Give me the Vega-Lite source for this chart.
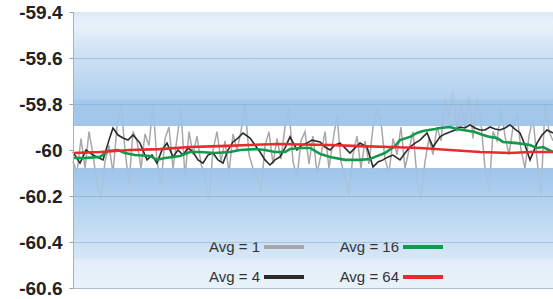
{
  "$schema": "https://vega.github.io/schema/vega-lite/v6.json",
  "width": 480,
  "height": 276,
  "autosize": {"type": "none"},
  "padding": {"left": 73, "top": 12, "right": 0, "bottom": 11},
  "background": "white",
  "config": {"view": {"stroke": null}},
  "datasets": {
    "bands": [
      {"band": "top", "lo": -59.896, "hi": -59.4},
      {"band": "bottom", "lo": -60.6, "hi": -60.078}
    ],
    "lines": [
      {"s":"Avg = 1","x":0,"v":-60.05},{"s":"Avg = 1","x":2,"v":-60.10},{"s":"Avg = 1","x":4,"v":-59.95},{"s":"Avg = 1","x":6,"v":-60.08},{"s":"Avg = 1","x":8,"v":-59.92},{"s":"Avg = 1","x":10,"v":-60.02},{"s":"Avg = 1","x":12,"v":-60.15},{"s":"Avg = 1","x":14,"v":-60.22},{"s":"Avg = 1","x":16,"v":-60.05},{"s":"Avg = 1","x":18,"v":-59.98},{"s":"Avg = 1","x":20,"v":-60.10},{"s":"Avg = 1","x":22,"v":-59.90},{"s":"Avg = 1","x":24,"v":-59.80},{"s":"Avg = 1","x":26,"v":-60.00},{"s":"Avg = 1","x":28,"v":-60.15},{"s":"Avg = 1","x":30,"v":-59.92},{"s":"Avg = 1","x":32,"v":-59.96},{"s":"Avg = 1","x":34,"v":-60.08},{"s":"Avg = 1","x":36,"v":-59.93},{"s":"Avg = 1","x":38,"v":-59.98},{"s":"Avg = 1","x":40,"v":-59.80},{"s":"Avg = 1","x":42,"v":-60.05},{"s":"Avg = 1","x":44,"v":-60.15},{"s":"Avg = 1","x":46,"v":-59.95},{"s":"Avg = 1","x":48,"v":-59.90},{"s":"Avg = 1","x":50,"v":-60.08},{"s":"Avg = 1","x":52,"v":-59.95},{"s":"Avg = 1","x":54,"v":-59.82},{"s":"Avg = 1","x":56,"v":-60.12},{"s":"Avg = 1","x":58,"v":-59.92},{"s":"Avg = 1","x":60,"v":-60.02},{"s":"Avg = 1","x":62,"v":-59.94},{"s":"Avg = 1","x":64,"v":-60.06},{"s":"Avg = 1","x":66,"v":-60.12},{"s":"Avg = 1","x":68,"v":-60.22},{"s":"Avg = 1","x":70,"v":-60.00},{"s":"Avg = 1","x":72,"v":-59.92},{"s":"Avg = 1","x":74,"v":-60.05},{"s":"Avg = 1","x":76,"v":-59.96},{"s":"Avg = 1","x":78,"v":-60.10},{"s":"Avg = 1","x":80,"v":-59.93},{"s":"Avg = 1","x":82,"v":-60.00},{"s":"Avg = 1","x":84,"v":-59.92},{"s":"Avg = 1","x":86,"v":-59.80},{"s":"Avg = 1","x":88,"v":-60.02},{"s":"Avg = 1","x":90,"v":-60.08},{"s":"Avg = 1","x":92,"v":-60.12},{"s":"Avg = 1","x":94,"v":-60.18},{"s":"Avg = 1","x":96,"v":-59.98},{"s":"Avg = 1","x":98,"v":-59.92},{"s":"Avg = 1","x":100,"v":-60.06},{"s":"Avg = 1","x":102,"v":-59.95},{"s":"Avg = 1","x":104,"v":-60.04},{"s":"Avg = 1","x":106,"v":-59.90},{"s":"Avg = 1","x":108,"v":-59.82},{"s":"Avg = 1","x":110,"v":-60.05},{"s":"Avg = 1","x":112,"v":-60.12},{"s":"Avg = 1","x":114,"v":-59.96},{"s":"Avg = 1","x":116,"v":-59.92},{"s":"Avg = 1","x":118,"v":-60.06},{"s":"Avg = 1","x":120,"v":-59.94},{"s":"Avg = 1","x":122,"v":-60.10},{"s":"Avg = 1","x":124,"v":-60.02},{"s":"Avg = 1","x":126,"v":-59.92},{"s":"Avg = 1","x":128,"v":-60.08},{"s":"Avg = 1","x":130,"v":-59.96},{"s":"Avg = 1","x":132,"v":-59.85},{"s":"Avg = 1","x":134,"v":-60.05},{"s":"Avg = 1","x":136,"v":-60.12},{"s":"Avg = 1","x":138,"v":-60.20},{"s":"Avg = 1","x":140,"v":-60.02},{"s":"Avg = 1","x":142,"v":-59.94},{"s":"Avg = 1","x":144,"v":-60.08},{"s":"Avg = 1","x":146,"v":-59.96},{"s":"Avg = 1","x":148,"v":-60.06},{"s":"Avg = 1","x":150,"v":-59.90},{"s":"Avg = 1","x":152,"v":-59.82},{"s":"Avg = 1","x":154,"v":-59.88},{"s":"Avg = 1","x":156,"v":-60.04},{"s":"Avg = 1","x":158,"v":-60.10},{"s":"Avg = 1","x":160,"v":-59.95},{"s":"Avg = 1","x":162,"v":-60.02},{"s":"Avg = 1","x":164,"v":-59.90},{"s":"Avg = 1","x":166,"v":-60.08},{"s":"Avg = 1","x":168,"v":-60.00},{"s":"Avg = 1","x":170,"v":-59.92},{"s":"Avg = 1","x":172,"v":-60.12},{"s":"Avg = 1","x":174,"v":-60.22},{"s":"Avg = 1","x":176,"v":-60.05},{"s":"Avg = 1","x":178,"v":-59.95},{"s":"Avg = 1","x":180,"v":-60.02},{"s":"Avg = 1","x":182,"v":-59.90},{"s":"Avg = 1","x":184,"v":-59.96},{"s":"Avg = 1","x":186,"v":-59.78},{"s":"Avg = 1","x":188,"v":-59.85},{"s":"Avg = 1","x":190,"v":-59.74},{"s":"Avg = 1","x":192,"v":-59.92},{"s":"Avg = 1","x":194,"v":-59.80},{"s":"Avg = 1","x":196,"v":-59.90},{"s":"Avg = 1","x":198,"v":-59.76},{"s":"Avg = 1","x":200,"v":-59.95},{"s":"Avg = 1","x":202,"v":-59.78},{"s":"Avg = 1","x":204,"v":-59.88},{"s":"Avg = 1","x":206,"v":-60.08},{"s":"Avg = 1","x":208,"v":-60.18},{"s":"Avg = 1","x":210,"v":-59.92},{"s":"Avg = 1","x":212,"v":-59.96},{"s":"Avg = 1","x":214,"v":-59.82},{"s":"Avg = 1","x":216,"v":-59.94},{"s":"Avg = 1","x":218,"v":-60.02},{"s":"Avg = 1","x":220,"v":-59.90},{"s":"Avg = 1","x":222,"v":-59.84},{"s":"Avg = 1","x":224,"v":-60.00},{"s":"Avg = 1","x":226,"v":-60.08},{"s":"Avg = 1","x":228,"v":-59.94},{"s":"Avg = 1","x":230,"v":-59.86},{"s":"Avg = 1","x":232,"v":-60.04},{"s":"Avg = 1","x":234,"v":-60.20},{"s":"Avg = 1","x":236,"v":-59.80},{"s":"Avg = 1","x":238,"v":-59.92},{"s":"Avg = 1","x":240,"v":-59.96},

      {"s":"Avg = 4","x":0,"v":-60.009},{"s":"Avg = 4","x":3.5,"v":-60.057},{"s":"Avg = 4","x":6.5,"v":-60.0},{"s":"Avg = 4","x":10,"v":-60.022},{"s":"Avg = 4","x":15,"v":-60.043},{"s":"Avg = 4","x":18.5,"v":-59.943},{"s":"Avg = 4","x":20,"v":-59.904},{"s":"Avg = 4","x":22.5,"v":-59.935},{"s":"Avg = 4","x":25,"v":-59.948},{"s":"Avg = 4","x":27.5,"v":-59.957},{"s":"Avg = 4","x":30,"v":-59.935},{"s":"Avg = 4","x":33.5,"v":-59.970},{"s":"Avg = 4","x":37,"v":-60.043},{"s":"Avg = 4","x":39.5,"v":-60.022},{"s":"Avg = 4","x":42,"v":-60.057},{"s":"Avg = 4","x":44.5,"v":-60.0},{"s":"Avg = 4","x":47,"v":-59.970},{"s":"Avg = 4","x":50,"v":-60.030},{"s":"Avg = 4","x":52.5,"v":-60.0},{"s":"Avg = 4","x":55,"v":-60.022},{"s":"Avg = 4","x":57.5,"v":-59.991},{"s":"Avg = 4","x":60,"v":-60.009},{"s":"Avg = 4","x":62.5,"v":-60.043},{"s":"Avg = 4","x":65,"v":-60.057},{"s":"Avg = 4","x":67.5,"v":-60.022},{"s":"Avg = 4","x":70,"v":-60.013},{"s":"Avg = 4","x":72.5,"v":-60.043},{"s":"Avg = 4","x":75,"v":-60.057},{"s":"Avg = 4","x":77.5,"v":-60.0},{"s":"Avg = 4","x":80,"v":-59.965},{"s":"Avg = 4","x":82.5,"v":-59.948},{"s":"Avg = 4","x":85,"v":-59.926},{"s":"Avg = 4","x":88.5,"v":-59.948},{"s":"Avg = 4","x":91,"v":-59.978},{"s":"Avg = 4","x":93.5,"v":-60.009},{"s":"Avg = 4","x":96,"v":-60.043},{"s":"Avg = 4","x":98.5,"v":-60.065},{"s":"Avg = 4","x":101,"v":-60.043},{"s":"Avg = 4","x":103.5,"v":-60.030},{"s":"Avg = 4","x":106,"v":-59.991},{"s":"Avg = 4","x":108.5,"v":-59.943},{"s":"Avg = 4","x":112,"v":-60.0},{"s":"Avg = 4","x":114.5,"v":-59.978},{"s":"Avg = 4","x":117,"v":-59.970},{"s":"Avg = 4","x":119.5,"v":-59.957},{"s":"Avg = 4","x":123.5,"v":-59.965},{"s":"Avg = 4","x":126,"v":-59.987},{"s":"Avg = 4","x":128.5,"v":-60.0},{"s":"Avg = 4","x":131,"v":-59.978},{"s":"Avg = 4","x":133.5,"v":-59.970},{"s":"Avg = 4","x":136,"v":-59.991},{"s":"Avg = 4","x":138.5,"v":-60.013},{"s":"Avg = 4","x":141,"v":-59.991},{"s":"Avg = 4","x":143.5,"v":-59.970},{"s":"Avg = 4","x":147,"v":-59.987},{"s":"Avg = 4","x":150,"v":-60.074},{"s":"Avg = 4","x":152.5,"v":-60.052},{"s":"Avg = 4","x":155,"v":-60.043},{"s":"Avg = 4","x":157.5,"v":-60.030},{"s":"Avg = 4","x":160,"v":-60.022},{"s":"Avg = 4","x":163.5,"v":-60.043},{"s":"Avg = 4","x":166,"v":-60.013},{"s":"Avg = 4","x":168.5,"v":-59.987},{"s":"Avg = 4","x":171,"v":-59.970},{"s":"Avg = 4","x":173.5,"v":-59.957},{"s":"Avg = 4","x":177,"v":-59.926},{"s":"Avg = 4","x":180,"v":-59.987},{"s":"Avg = 4","x":183.5,"v":-59.943},{"s":"Avg = 4","x":186,"v":-59.930},{"s":"Avg = 4","x":188.5,"v":-59.922},{"s":"Avg = 4","x":191,"v":-59.913},{"s":"Avg = 4","x":193.5,"v":-59.900},{"s":"Avg = 4","x":196,"v":-59.904},{"s":"Avg = 4","x":198.5,"v":-59.891},{"s":"Avg = 4","x":201,"v":-59.904},{"s":"Avg = 4","x":203.5,"v":-59.913},{"s":"Avg = 4","x":206,"v":-59.913},{"s":"Avg = 4","x":208.5,"v":-59.900},{"s":"Avg = 4","x":211,"v":-59.909},{"s":"Avg = 4","x":213.5,"v":-59.913},{"s":"Avg = 4","x":216,"v":-59.904},{"s":"Avg = 4","x":218.5,"v":-59.891},{"s":"Avg = 4","x":221,"v":-59.909},{"s":"Avg = 4","x":223.5,"v":-59.926},{"s":"Avg = 4","x":226,"v":-59.978},{"s":"Avg = 4","x":228.5,"v":-60.043},{"s":"Avg = 4","x":232,"v":-59.970},{"s":"Avg = 4","x":234.5,"v":-59.935},{"s":"Avg = 4","x":237,"v":-59.913},{"s":"Avg = 4","x":240,"v":-59.926},

      {"s":"Avg = 16","x":0,"v":-60.035},{"s":"Avg = 16","x":6,"v":-60.035},{"s":"Avg = 16","x":13.5,"v":-60.030},{"s":"Avg = 16","x":17.5,"v":-60.004},{"s":"Avg = 16","x":22.5,"v":-60.0},{"s":"Avg = 16","x":26,"v":-60.013},{"s":"Avg = 16","x":31,"v":-60.022},{"s":"Avg = 16","x":38.5,"v":-60.026},{"s":"Avg = 16","x":42,"v":-60.043},{"s":"Avg = 16","x":46,"v":-60.035},{"s":"Avg = 16","x":53.5,"v":-60.026},{"s":"Avg = 16","x":58.5,"v":-60.009},{"s":"Avg = 16","x":63.5,"v":-60.009},{"s":"Avg = 16","x":71,"v":-60.013},{"s":"Avg = 16","x":78.5,"v":-60.009},{"s":"Avg = 16","x":83.5,"v":-60.0},{"s":"Avg = 16","x":91,"v":-59.996},{"s":"Avg = 16","x":96,"v":-60.0},{"s":"Avg = 16","x":101,"v":-60.009},{"s":"Avg = 16","x":106,"v":-60.009},{"s":"Avg = 16","x":108.5,"v":-59.996},{"s":"Avg = 16","x":113.5,"v":-59.991},{"s":"Avg = 16","x":118.5,"v":-59.991},{"s":"Avg = 16","x":123.5,"v":-60.017},{"s":"Avg = 16","x":128.5,"v":-60.030},{"s":"Avg = 16","x":136,"v":-60.043},{"s":"Avg = 16","x":143.5,"v":-60.043},{"s":"Avg = 16","x":148.5,"v":-60.039},{"s":"Avg = 16","x":151,"v":-60.030},{"s":"Avg = 16","x":156,"v":-60.013},{"s":"Avg = 16","x":161,"v":-59.983},{"s":"Avg = 16","x":163.5,"v":-59.957},{"s":"Avg = 16","x":168.5,"v":-59.943},{"s":"Avg = 16","x":172,"v":-59.926},{"s":"Avg = 16","x":175,"v":-59.917},{"s":"Avg = 16","x":181,"v":-59.909},{"s":"Avg = 16","x":183.5,"v":-59.904},{"s":"Avg = 16","x":188.5,"v":-59.9},{"s":"Avg = 16","x":192,"v":-59.909},{"s":"Avg = 16","x":195,"v":-59.913},{"s":"Avg = 16","x":201,"v":-59.922},{"s":"Avg = 16","x":205,"v":-59.935},{"s":"Avg = 16","x":208.5,"v":-59.943},{"s":"Avg = 16","x":212,"v":-59.948},{"s":"Avg = 16","x":215,"v":-59.965},{"s":"Avg = 16","x":222,"v":-59.970},{"s":"Avg = 16","x":228.5,"v":-59.978},{"s":"Avg = 16","x":232,"v":-59.991},{"s":"Avg = 16","x":235,"v":-59.987},{"s":"Avg = 16","x":240,"v":-60.009},

      {"s":"Avg = 64","x":0,"v":-60.013},{"s":"Avg = 64","x":13.5,"v":-60.009},{"s":"Avg = 64","x":28.5,"v":-60.0},{"s":"Avg = 64","x":43.5,"v":-59.996},{"s":"Avg = 64","x":58.5,"v":-59.987},{"s":"Avg = 64","x":73.5,"v":-59.983},{"s":"Avg = 64","x":88.5,"v":-59.978},{"s":"Avg = 64","x":103.5,"v":-59.974},{"s":"Avg = 64","x":113.5,"v":-59.976},{"s":"Avg = 64","x":128.5,"v":-59.978},{"s":"Avg = 64","x":143.5,"v":-59.983},{"s":"Avg = 64","x":158.5,"v":-59.987},{"s":"Avg = 64","x":173.5,"v":-59.991},{"s":"Avg = 64","x":188.5,"v":-60.0},{"s":"Avg = 64","x":203.5,"v":-60.009},{"s":"Avg = 64","x":218.5,"v":-60.013},{"s":"Avg = 64","x":228.5,"v":-60.009},{"s":"Avg = 64","x":240,"v":-60.009}
    ]
  },
  "encoding": {
    "y": {
      "type": "quantitative",
      "scale": {"domain": [-60.6, -59.4], "nice": false, "zero": false}
    }
  },
  "layer": [
    {
      "data": {"name": "bands"},
      "transform": [{"filter": "datum.band == 'top'"}],
      "mark": {"type": "rect", "color": {"gradient": "linear", "x1": 0, "y1": 0, "x2": 0, "y2": 1, "stops": [
        {"offset": 0, "color": "#dbe8f5"}, {"offset": 0.07, "color": "#e4eff9"}, {"offset": 0.12, "color": "#e8f1fa"},
        {"offset": 0.35, "color": "#cfe2f4"}, {"offset": 0.76, "color": "#b1d1ef"}, {"offset": 0.775, "color": "#a3c8ec"}, {"offset": 1, "color": "#a2c7eb"}]}},
      "encoding": {"y": {"field": "hi", "type": "quantitative"}, "y2": {"field": "lo"}}
    },
    {
      "data": {"name": "bands"},
      "transform": [{"filter": "datum.band == 'bottom'"}],
      "mark": {"type": "rect", "color": {"gradient": "linear", "x1": 0, "y1": 0, "x2": 0, "y2": 1, "stops": [
        {"offset": 0, "color": "#9fc5ea"}, {"offset": 0.3, "color": "#b3d3f0"}, {"offset": 0.75, "color": "#d6e7f6"}, {"offset": 0.77, "color": "#e2eef9"}, {"offset": 1, "color": "#e9f2fa"}]}},
      "encoding": {"y": {"field": "hi", "type": "quantitative"}, "y2": {"field": "lo"}}
    },
    {
      "data": {"name": "lines"},
      "transform": [{"filter": "datum.s == 'Avg = 1'"}],
      "mark": {"type": "line", "strokeWidth": 1.5, "interpolate": "linear"},
      "encoding": {
        "x": {"field": "x", "type": "quantitative", "scale": {"domain": [0, 240], "nice": false, "zero": false},
              "axis": {"labels": false, "ticks": false, "title": null, "grid": false, "domainColor": "#d4d4d4"}},
        "y": {"field": "v", "type": "quantitative"},
        "color": {"field": "s", "type": "nominal"}
      }
    },
    {
      "data": {"name": "bands"},
      "transform": [{"filter": "datum.band == 'top'"}],
      "mark": {"type": "rect", "opacity": 0.8, "color": {"gradient": "linear", "x1": 0, "y1": 0, "x2": 0, "y2": 1, "stops": [
        {"offset": 0, "color": "#dbe8f5"}, {"offset": 0.07, "color": "#e4eff9"}, {"offset": 0.12, "color": "#e8f1fa"},
        {"offset": 0.35, "color": "#cfe2f4"}, {"offset": 0.76, "color": "#b1d1ef"}, {"offset": 0.775, "color": "#a3c8ec"}, {"offset": 1, "color": "#a2c7eb"}]}},
      "encoding": {"y": {"field": "hi", "type": "quantitative"}, "y2": {"field": "lo"}}
    },
    {
      "data": {"name": "bands"},
      "transform": [{"filter": "datum.band == 'bottom'"}],
      "mark": {"type": "rect", "opacity": 0.8, "color": {"gradient": "linear", "x1": 0, "y1": 0, "x2": 0, "y2": 1, "stops": [
        {"offset": 0, "color": "#9fc5ea"}, {"offset": 0.3, "color": "#b3d3f0"}, {"offset": 0.75, "color": "#d6e7f6"}, {"offset": 0.77, "color": "#e2eef9"}, {"offset": 1, "color": "#e9f2fa"}]}},
      "encoding": {"y": {"field": "hi", "type": "quantitative"}, "y2": {"field": "lo"}}
    },
    {
      "data": {"name": "lines"},
      "transform": [{"filter": "datum.s != 'Avg = 1'"}],
      "mark": {"type": "line", "interpolate": "linear"},
      "encoding": {
        "x": {"field": "x", "type": "quantitative"},
        "y": {
          "field": "v", "type": "quantitative",
          "axis": {
            "values": [-60.6, -60.4, -60.2, -60, -59.8, -59.6, -59.4],
            "labelExpr": "'' + round(datum.value * 10) / 10",
            "title": null,
            "labelFont": "Liberation Sans", "labelFontWeight": "bold", "labelFontSize": 19, "labelColor": "#222",
            "labelPadding": 7, "tickSize": 4, "tickColor": "#9a9a9a", "domainColor": "#b0b0b0",
            "grid": true, "gridColor": "#7f9fc6",
            "gridOpacity": {"condition": {"test": "abs(datum.value + 60) < 0.01 || abs(datum.value + 59.4) < 0.01", "value": 0}, "value": 0.45},
            "zindex": 1
          }
        },
        "color": {
          "field": "s", "type": "nominal",
          "scale": {"domain": ["Avg = 1", "Avg = 4", "Avg = 16", "Avg = 64"], "range": ["#a8a8a8", "#2a2a2a", "#12994a", "#ea2a2e"]},
          "legend": {
            "orient": "none", "legendX": 189, "legendY": 213, "columns": 2, "title": null,
            "symbolType": "stroke", "symbolSize": 1600, "symbolStrokeWidth": 4,
            "labelFont": "Liberation Sans", "labelFontSize": 15, "labelColor": "#333",
            "labelAlign": "right", "labelOffset": -46, "columnPadding": 27, "rowPadding": -7
          }
        },
        "strokeWidth": {"condition": {"test": "datum.s == 'Avg = 4'", "value": 1.6}, "value": 2.6}
      }
    }
  ]
}
